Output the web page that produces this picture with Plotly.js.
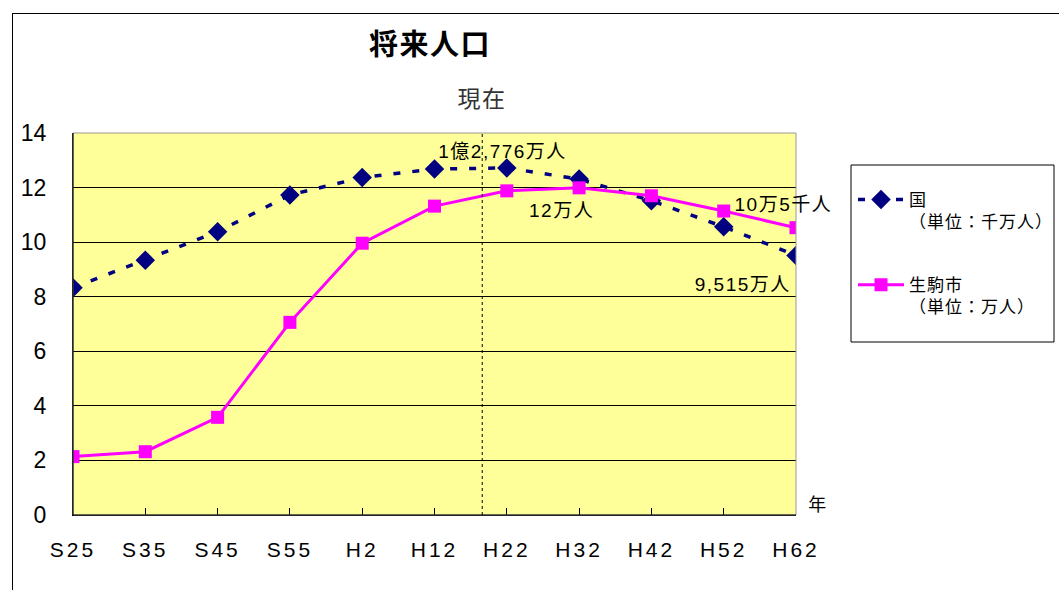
<!DOCTYPE html>
<html><head><meta charset="utf-8">
<script src="https://cdn.plot.ly/plotly-3.0.1.min.js"></script>
<style>
html,body{margin:0;padding:0;background:#fff;overflow:hidden;}
#frame{position:absolute;left:12px;top:13px;width:1100px;height:700px;border:1px solid #000;pointer-events:none;}
#chart{position:absolute;left:0;top:0;width:1059px;height:590px;}
#chart .xtick text{letter-spacing:3px;}
#chart .annotation-text{letter-spacing:1.5px;}
#chart .legendtext{letter-spacing:1px;}
</style></head><body>
<div id="chart"></div>
<div id="frame"></div>
<script>
const categories = ["S25","S35","S45","S55","H2","H12","H22","H32","H42","H52","H62"];
const kuniValues = [8.33, 9.34, 10.38, 11.73, 12.37, 12.68, 12.72, 12.31, 11.52, 10.56, 9.515];
const ikomaValues = [2.14, 2.32, 3.58, 7.06, 9.96, 11.32, 11.88, 11.99, 11.70, 11.14, 10.53];
const seriesNames = ["国<br>（単位：千万人）", "生駒市<br>（単位：万人）"];
const yTicks = [0,2,4,6,8,10,12,14];

const F = "Liberation Sans, Arial, Noto Sans CJK JP, sans-serif";
const J = "Noto Sans CJK JP, sans-serif";
const idx = categories.map((c,i)=>i);

const traces = [
  {x: idx, y: kuniValues, name: seriesNames[0], mode: "lines+markers", legendgroup: "a",
   line: {color: "#000080", width: 3.5, dash: "7px,12px"},
   marker: {symbol: "diamond", size: 15, color: "#000080"}},
  {x: idx, y: ikomaValues, name: seriesNames[1], mode: "lines+markers", legendgroup: "b",
   line: {color: "#FF00FF", width: 3},
   marker: {symbol: "square", size: 13, color: "#FF00FF"}}
];

const px = v => (v-73)/723;
const py = v => (515-v)/382;

const layout = {
  width: 1059, height: 590,
  margin: {l: 73, r: 263, t: 133, b: 75},
  paper_bgcolor: "rgba(0,0,0,0)",
  plot_bgcolor: "#FFFF99",
  font: {family: F, size: 21, color: "#000"},
  showlegend: true,
  legend: {x: 853/1059, xref: "container", y: 1 - 182/590, yref: "container", xanchor: "left", yanchor: "top",
    borderwidth: 0, bgcolor: "rgba(0,0,0,0)", valign: "top",
    font: {family: F, size: 17}, tracegroupgap: 38, itemwidth: 46},
  xaxis: {range: [0, 10], tickmode: "array", tickvals: idx, ticktext: categories,
    showgrid: false, zeroline: false, showline: true, linecolor: "#000", linewidth: 1,
    ticks: "inside", ticklen: 7, tickcolor: "#000", ticklabelstandoff: 16, fixedrange: true,
    tickfont: {size: 21}},
  yaxis: {range: [0, 14], tickmode: "array", tickvals: yTicks,
    showgrid: true, gridcolor: "#000", gridwidth: 1, zeroline: false,
    showline: true, linecolor: "#000", linewidth: 1,
    ticks: "", ticklabelstandoff: 21, fixedrange: true, tickfont: {size: 23}},
  shapes: [
    {type: "rect", xref: "paper", yref: "paper", x0: 0, x1: 1, y0: 0, y1: 1, line: {color: "#999", width: 1}},
    {type: "line", xref: "paper", yref: "paper", x0: 0, x1: 0, y0: 0, y1: 1, line: {color: "#000", width: 1}},
    {type: "line", xref: "paper", yref: "paper", x0: 0, x1: 1, y0: 0, y1: 0, line: {color: "#000", width: 1}},
    {type: "line", xref: "x", yref: "paper", x0: 5.66, x1: 5.66, y0: 0, y1: 1, line: {color: "#000", width: 1, dash: "dot"}},
    {type: "rect", xref: "paper", yref: "paper", x0: px(851), x1: px(1054), y0: py(165), y1: py(342), line: {color: "#000", width: 1}, fillcolor: "rgba(0,0,0,0)"}
  ],
  annotations: [
    {text: "<b>将来人口</b>", xref: "paper", yref: "paper", x: px(430), y: py(42), yanchor: "middle", showarrow: false,
     font: {family: J, size: 29}},
    {text: "現在", xref: "x", yref: "paper", x: 5.66, xshift: 0, y: py(97), yanchor: "middle", showarrow: false,
     font: {family: J, size: 23, color: "#333"}},
    {text: "年", xref: "paper", yref: "paper", x: px(807), xanchor: "left", y: py(503), yanchor: "middle", showarrow: false,
     font: {family: J, size: 18}},
    {text: "1億2,776万人", xref: "x", yref: "y", x: 6, y: kuniValues[6], yshift: 16, xshift: -4, showarrow: false,
     font: {family: F, size: 19}},
    {text: "12万人", xref: "x", yref: "y", x: 7, y: ikomaValues[7], yshift: -23, xshift: -18, showarrow: false,
     font: {family: F, size: 19}},
    {text: "10万5千人", xref: "x", yref: "y", x: 10, y: ikomaValues[10], yshift: 23, xshift: -13, showarrow: false,
     font: {family: F, size: 19}},
    {text: "9,515万人", xref: "x", yref: "y", x: 10, y: kuniValues[10], yshift: -29, xshift: -53, showarrow: false,
     font: {family: F, size: 19}}
  ]
};

Plotly.newPlot("chart", traces, layout, {displayModeBar: false, staticPlot: true});
</script>
</body></html>
